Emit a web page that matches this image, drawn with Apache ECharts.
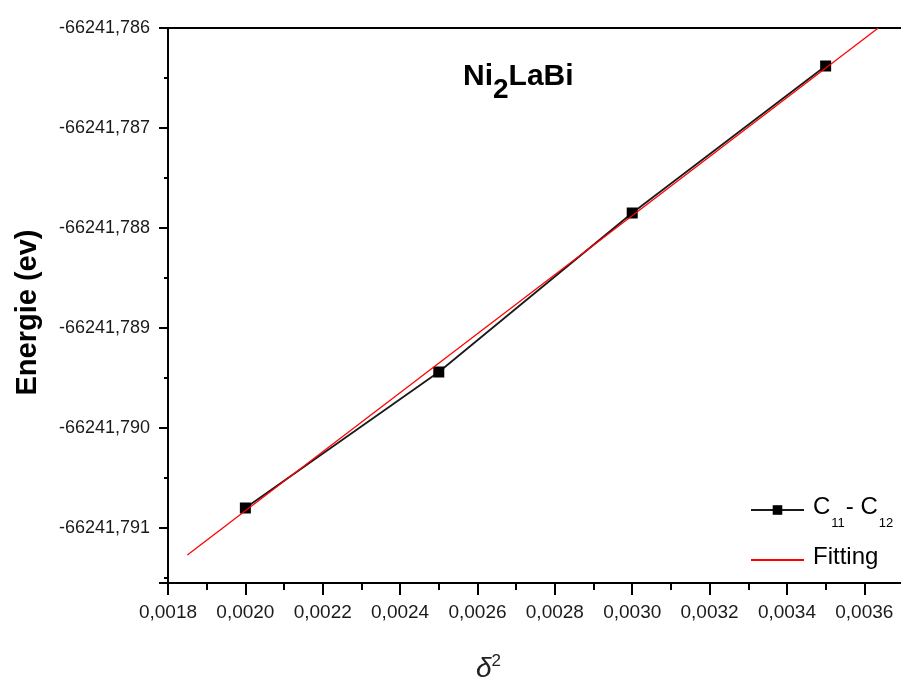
<!DOCTYPE html>
<html><head><meta charset="utf-8">
<script src="https://cdn.jsdelivr.net/npm/echarts@6/dist/echarts.min.js"></script>
<style>html,body{margin:0;padding:0;background:#fff}#c{width:901px;height:680px}</style>
</head><body><div id="c"></div>
<script>
// ---- data ----
const deltaSq = [0.0020, 0.0025, 0.0030, 0.0035];
const energy = [-66241.7908, -66241.78944, -66241.78785, -66241.78638];
const fitX = [0.00185, 0.003636];
const fitY = [-66241.79127, -66241.786];
const seriesNames = ['C11 - C12', 'Fitting'];
const yMin = -66241.79155, yMax = -66241.786;
const xMin = 0.0018, xMax = 0.0037, xStep = 0.0002;

const FONT = 'Liberation Sans, Arial, sans-serif';
const chart = echarts.init(document.getElementById('c'), null, {renderer: 'canvas'});
chart.setOption({
  animation: false,
  backgroundColor: '#fff',
  title: {
    text: '{a|Ni}{b|2}{a|LaBi}',
    left: 458, top: 57,
    textStyle: {
      rich: {
        a: {fontFamily: FONT, fontSize: 30, fontWeight: 'bold', color: '#000', verticalAlign: 'top', lineHeight: 34},
        b: {fontFamily: FONT, fontSize: 28, fontWeight: 'bold', color: '#000', verticalAlign: 'top', lineHeight: 34, padding: [14, 0, 0, 0]}
      }
    }
  },
  legend: {
    orient: 'vertical',
    left: 750, top: 495, padding: 0,
    itemWidth: 53, itemHeight: 12, itemGap: 15,
    data: [
      {name: seriesNames[0]},
      {name: seriesNames[1], itemStyle: {opacity: 0}}
    ],
    formatter: function (n) {
      if (n === seriesNames[0]) return '{a|C}{s|11}{a|- C}{s|12}';
      return '{a|' + n + '}';
    },
    textStyle: {
      padding: [0, 0, 0, 4],
      rich: {
        a: {fontFamily: FONT, fontSize: 24, color: '#000', lineHeight: 30, verticalAlign: 'top'},
        s: {fontFamily: FONT, fontSize: 13, color: '#000', lineHeight: 14, verticalAlign: 'top', padding: [22, 1, 0, 1]}
      }
    }
  },
  grid: {left: 168, right: -2, top: 28, bottom: 97, outerBoundsMode: 'none', containLabel: false,
         show: true, borderColor: '#000', borderWidth: 2, backgroundColor: 'transparent'},
  xAxis: {
    type: 'value', min: xMin, max: xMax, interval: xStep,
    name: '{d|δ}{s|2}', nameLocation: 'middle', nameGap: 70,
    nameTextStyle: {
      padding: [0, 94, 0, 0],
      rich: {
        d: {fontFamily: FONT, fontSize: 28, fontStyle: 'italic', color: '#222', verticalAlign: 'bottom', lineHeight: 30},
        s: {fontFamily: FONT, fontSize: 17, color: '#222', verticalAlign: 'top', lineHeight: 30}
      }
    },
    axisLine: {lineStyle: {color: '#000', width: 2}},
    axisTick: {inside: false, length: 12, lineStyle: {color: '#000', width: 2}},
    minorTick: {show: true, splitNumber: 2, length: 7, lineStyle: {color: '#000', width: 2}},
    splitLine: {show: false},
    axisLabel: {
      margin: 20, fontFamily: FONT, fontSize: 19, color: '#1a1a1a',
      formatter: function (v) {
        const k = Math.round(v * 10000);
        if (Math.abs(v * 10000 - k) > 1e-6 || k % 2 !== 0) return '';
        return (k / 10000).toFixed(4).replace('.', ',');
      }
    }
  },
  yAxis: {
    type: 'value', min: yMin, max: yMax, splitNumber: 5, scale: true,
    name: 'Energie (ev)', nameLocation: 'middle', nameRotate: 90, nameGap: 126,
    nameTextStyle: {fontFamily: FONT, fontSize: 29, fontWeight: 'bold', color: '#000', padding: [0, 14, 0, 0]},
    axisLine: {lineStyle: {color: '#000', width: 2}},
    axisTick: {length: 9, lineStyle: {color: '#000', width: 2}},
    minorTick: {show: true, splitNumber: 2, length: 4, lineStyle: {color: '#000', width: 2}},
    splitLine: {show: false},
    axisLabel: {
      margin: 18, fontFamily: FONT, fontSize: 18, color: '#1a1a1a',
      formatter: function (v) {
        const k = Math.round(v * 1000);
        if (Math.abs(v * 1000 - k) > 1e-3) return '';
        return (k / 1000).toFixed(3).replace('.', ',');
      }
    }
  },
  series: [
    {
      name: seriesNames[0], type: 'line',
      data: deltaSq.map((x, i) => [x, energy[i]]),
      symbol: 'rect', symbolSize: 11,
      itemStyle: {color: '#000'},
      lineStyle: {color: '#1a1a1a', width: 1.8},
      z: 2
    },
    {
      name: seriesNames[1], type: 'line',
      data: fitX.map((x, i) => [x, fitY[i]]),
      symbol: 'none',
      itemStyle: {color: '#ff0000'},
      lineStyle: {color: '#ff0000', width: 1.3},
      z: 3
    }
  ]
});
</script></body></html>
